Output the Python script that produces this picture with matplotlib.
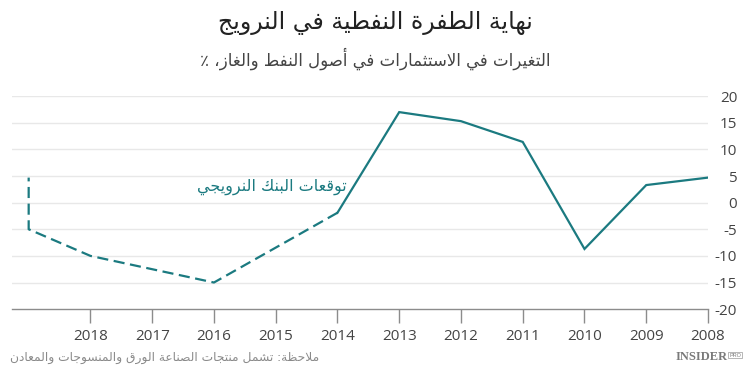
import matplotlib
matplotlib.use("Agg")
import matplotlib.pyplot as plt

# --- data ---
years_actual = [2008, 2009, 2010, 2011, 2012, 2013, 2014]
values_actual = [4.7, 3.3, -8.7, 11.4, 15.3, 17.0, -1.9]

years_forecast = [2014, 2016, 2018, 2019, 2019]
values_forecast = [-1.9, -15.0, -10.0, -5.0, 4.7]

tick_years = list(range(2008, 2019))
y_ticks = [-20, -15, -10, -5, 0, 5, 10, 15, 20]

title = "نهاية الطفرة النفطية في النرويج"
subtitle = "التغيرات في الاستثمارات في أصول النفط والغاز، ٪"
note_label = "توقعات البنك النرويجي"
footnote = "ملاحظة: تشمل منتجات الصناعة الورق والمنسوجات والمعادن"

TEAL = "#1b7a80"


# matplotlib has no Arabic shaping, so map letters to presentation forms
# and reverse them into visual order
DUAL = {
    "ب": 0xFE8F, "ت": 0xFE95, "ث": 0xFE99, "ج": 0xFE9D, "ح": 0xFEA1,
    "خ": 0xFEA5, "س": 0xFEB1, "ش": 0xFEB5, "ص": 0xFEB9, "ض": 0xFEBD,
    "ط": 0xFEC1, "ظ": 0xFEC5, "ع": 0xFEC9, "غ": 0xFECD, "ف": 0xFED1,
    "ق": 0xFED5, "ك": 0xFED9, "ل": 0xFEDD, "م": 0xFEE1, "ن": 0xFEE5,
    "ه": 0xFEE9, "ي": 0xFEF1,
}
RIGHT = {
    "ا": 0xFE8D, "أ": 0xFE83, "إ": 0xFE87, "آ": 0xFE81, "ة": 0xFE93,
    "د": 0xFEA9, "ذ": 0xFEAB, "ر": 0xFEAD, "ز": 0xFEAF, "و": 0xFEED,
    "ى": 0xFEEF,
}
LAM_ALEF = {"ا": 0xFEFB, "أ": 0xFEF7, "إ": 0xFEF9, "آ": 0xFEF5}


def shape(text):
    units = []
    i = 0
    while i < len(text):
        c = text[i]
        if c == "ل" and i + 1 < len(text) and text[i + 1] in LAM_ALEF:
            units.append(("R", LAM_ALEF[text[i + 1]]))
            i += 2
            continue
        if c in DUAL:
            units.append(("D", DUAL[c]))
        elif c in RIGHT:
            units.append(("R", RIGHT[c]))
        else:
            units.append(("N", c))
        i += 1

    out = []
    for k, (kind, base) in enumerate(units):
        if kind == "N":
            out.append(base)
            continue
        prev_joins = k > 0 and units[k - 1][0] == "D"
        next_joins = kind == "D" and k + 1 < len(units) and units[k + 1][0] in "DR"
        if prev_joins and next_joins:
            off = 3
        elif prev_joins:
            off = 1
        elif next_joins:
            off = 2
        else:
            off = 0
        out.append(chr(base + off))
    return "".join(out)[::-1]


AR = ["DejaVu Sans"]
NUM = ["Open Sans", "DejaVu Sans"]

fig = plt.figure(figsize=(7.5, 3.77), dpi=100)
ax = fig.add_axes([0.016, 0.180, 0.928, 0.565])

ax.plot(years_actual, values_actual, color=TEAL, lw=1.6,
        solid_joinstyle="miter", zorder=3)
ax.plot(years_forecast, values_forecast, color=TEAL, lw=1.6,
        linestyle=(0, (5, 2.5)), zorder=3)

ax.set_xlim(2019.27, 2008)
ax.set_ylim(-20, 20)

ax.set_xticks(tick_years)
ax.set_xticklabels([str(y) for y in tick_years], family=NUM, fontsize=11,
                   color="#444444")
ax.tick_params(axis="x", length=10, width=1, color="#8c8c8c", pad=4)

ax.yaxis.tick_right()
ax.set_yticks(y_ticks)
ax.set_yticklabels([str(v) for v in y_ticks], family=NUM, fontsize=11,
                   color="#444444", ha="right")
ax.tick_params(axis="y", length=0, pad=21)

for v in y_ticks[1:]:
    ax.axhline(v, color="#e8e8e8", lw=1, zorder=1)

for side in ["top", "left", "right"]:
    ax.spines[side].set_visible(False)
ax.spines["bottom"].set_color("#8c8c8c")
ax.spines["bottom"].set_linewidth(1)

ax.text(2013.85, 3.0, shape(note_label), family=AR, fontsize=11.5,
        color=TEAL, ha="right", va="center")

fig.text(0.5, 0.94, shape(title), family=AR, fontsize=17,
         color="#222222", ha="center", va="center")
fig.text(0.5, 0.845, shape(subtitle), family=AR, fontsize=12,
         color="#444444", ha="center", va="center")
fig.text(0.013, 0.053, shape(footnote), family=AR, fontsize=8.8,
         color="#8a8a8a", ha="left", va="center")

fig.text(0.970, 0.053, "INSIDER", family=["Liberation Serif"],
         fontsize=9, fontweight="bold", color="#7a7a7a",
         ha="right", va="center")
fig.text(0.972, 0.058, "PRO", family=["Liberation Sans"], fontsize=4,
         color="#7a7a7a", ha="left", va="center",
         bbox=dict(boxstyle="square,pad=0.15", fc="none", ec="#9a9a9a", lw=0.5))

fig.savefig("out.png", dpi=100)
